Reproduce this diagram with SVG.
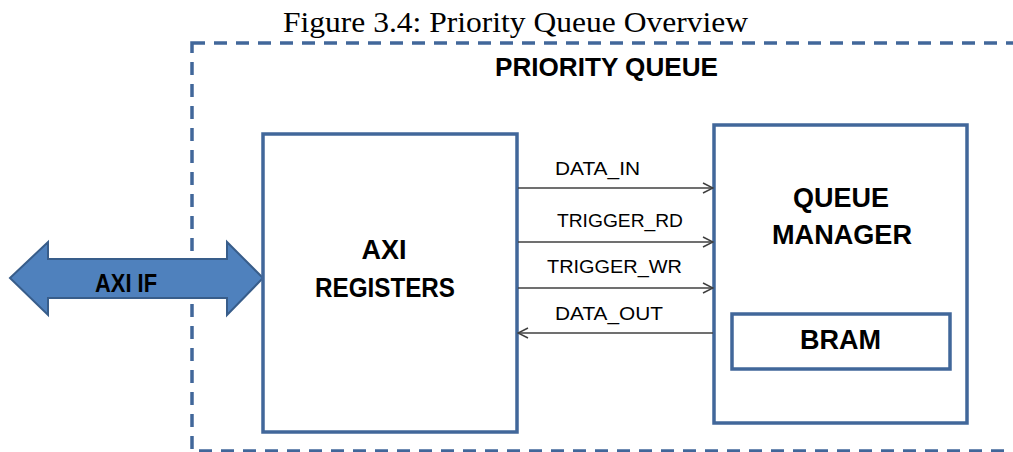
<svg xmlns="http://www.w3.org/2000/svg" width="1013" height="452" viewBox="0 0 1013 452">
<defs>
<style>
.box{fill:#fff;stroke:#41679A;stroke-width:3.5}
.lbl{font-family:"Liberation Sans",Arial,sans-serif;font-weight:bold;fill:#000;text-anchor:middle}
.sig{font-family:"Liberation Sans",Arial,sans-serif;font-size:19px;fill:#000}
.ttl{font-family:"Liberation Serif","Times New Roman",serif;font-size:29px;fill:#000;text-anchor:middle}
.wire{stroke:#404040;stroke-width:1.5;fill:none}
</style>
<marker id="ah" viewBox="0 0 12 12" refX="11" refY="6" markerWidth="12" markerHeight="12" markerUnits="userSpaceOnUse" orient="auto">
<path d="M1,1 L11,6 L1,11" fill="none" stroke="#404040" stroke-width="1.5"/>
</marker>
</defs>
<rect width="1013" height="452" fill="#fff"/>
<text class="ttl" x="515.5" y="32" textLength="465" lengthAdjust="spacingAndGlyphs">Figure 3.4: Priority Queue Overview</text>
<g id="priority-queue">
<rect x="192" y="43" width="840" height="408" fill="none" stroke="#41679A" stroke-width="3.5" stroke-dasharray="13 9"/>
<text class="lbl" x="606.5" y="76" font-size="25" textLength="223" lengthAdjust="spacingAndGlyphs">PRIORITY QUEUE</text>
</g>
<g id="axi-if">
<path d="M10,278 L48,242 L48,259 L227,259 L227,242 L263,278 L227,315 L227,298 L48,298 L48,315 Z" fill="#4F81BD" stroke="#385D8A" stroke-width="2"/>
<text class="lbl" x="126" y="292" font-size="25" textLength="62" lengthAdjust="spacingAndGlyphs">AXI IF</text>
</g>
<g id="axi-registers">
<rect class="box" x="263" y="134" width="254" height="298"/>
<text class="lbl" x="384" y="259" font-size="27" textLength="45" lengthAdjust="spacingAndGlyphs">AXI</text>
<text class="lbl" x="385" y="297" font-size="27" textLength="140" lengthAdjust="spacingAndGlyphs">REGISTERS</text>
</g>
<g id="queue-manager">
<rect class="box" x="714" y="125" width="253" height="298"/>
<text class="lbl" x="841" y="207" font-size="27" textLength="96" lengthAdjust="spacingAndGlyphs">QUEUE</text>
<text class="lbl" x="842" y="244" font-size="27" textLength="140" lengthAdjust="spacingAndGlyphs">MANAGER</text>
</g>
<g id="bram">
<rect class="box" x="732" y="314" width="218" height="55"/>
<text class="lbl" x="840.5" y="349" font-size="27" textLength="81" lengthAdjust="spacingAndGlyphs">BRAM</text>
</g>
<g id="connectors">
<line class="wire" x1="518" y1="188" x2="713" y2="188" marker-end="url(#ah)"/>
<line class="wire" x1="518" y1="242" x2="713" y2="242" marker-end="url(#ah)"/>
<line class="wire" x1="518" y1="288" x2="713" y2="288" marker-end="url(#ah)"/>
<line class="wire" x1="713" y1="333" x2="518" y2="333" marker-end="url(#ah)"/>
<text class="sig" x="555" y="175" textLength="85" lengthAdjust="spacingAndGlyphs">DATA_IN</text>
<text class="sig" x="557" y="227" textLength="126" lengthAdjust="spacingAndGlyphs">TRIGGER_RD</text>
<text class="sig" x="547" y="273" textLength="135" lengthAdjust="spacingAndGlyphs">TRIGGER_WR</text>
<text class="sig" x="555" y="320" textLength="108" lengthAdjust="spacingAndGlyphs">DATA_OUT</text>
</g>
</svg>
